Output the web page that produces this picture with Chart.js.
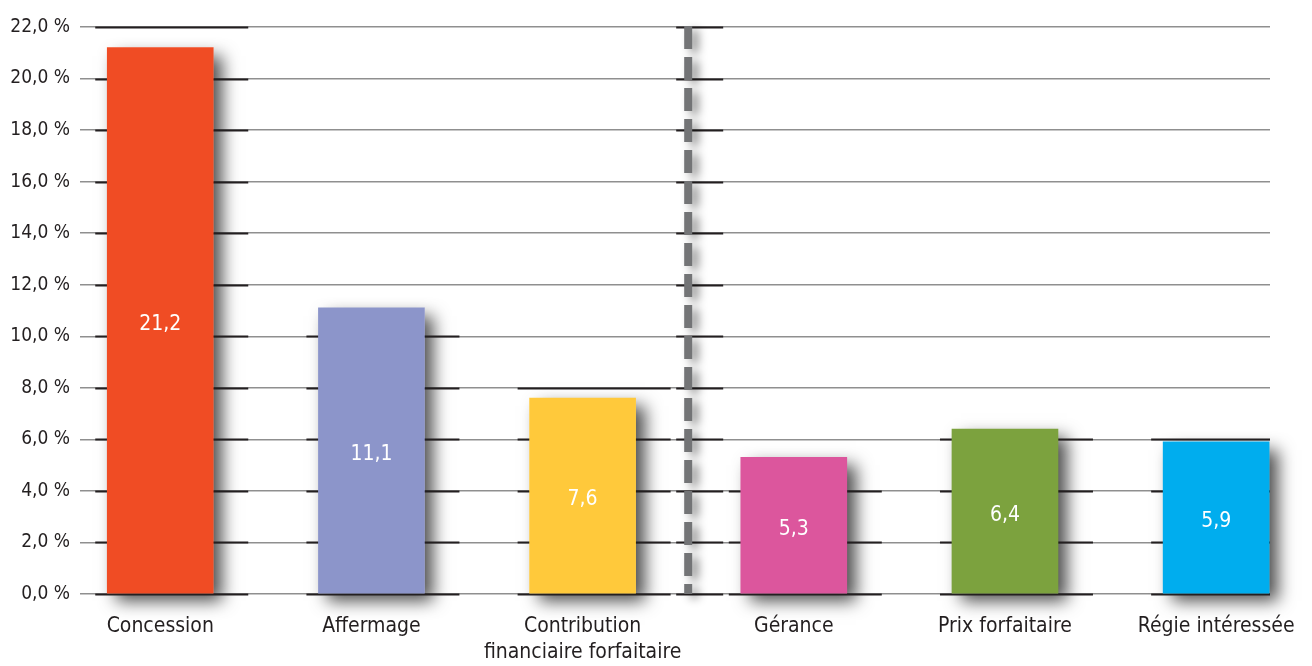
<!DOCTYPE html>
<html>
<head>
<meta charset="utf-8">
<script src="https://cdn.jsdelivr.net/npm/chart.js@4"></script>
<style>
    html, body { margin: 0; padding: 0; background: #ffffff; }
    #wrap { width: 1312px; height: 666px; }
</style>
</head>
<body>
<div id="wrap"><canvas id="chart" width="1312" height="666"></canvas></div>
<script>
const categories = ["Concession", "Affermage", ["Contribution", "financiaire forfaitaire"], "Gérance", "Prix forfaitaire", "Régie intéressée"];
const values = [21.2, 11.1, 7.6, 5.3, 6.4, 5.9];
const barColors = ["#F04C24", "#8C95CA", "#FFC93B", "#DC569D", "#7CA23E", "#00ADEE"];
const yTicks = [0, 2, 4, 6, 8, 10, 12, 14, 16, 18, 20, 22];
const dividerAt = 2.5; // dashed line between "Contribution" and "Gérance"

const FONT = "'Liberation Sans Narrow', 'DejaVu Sans Condensed', sans-serif";
const TEXT = "#231f20";
const DARK_GRID = "#231f20";

const fmt = (v) => v.toFixed(1).replace(".", ",");

// shadow behind bars, drawn before the bars so the grid lines sit on top of it
const shadowPlugin = {
    id: "barShadow",
    beforeDatasetsDraw(chart) {
        const ctx = chart.ctx;
        const meta = chart.getDatasetMeta(0);
        ctx.save();
        ctx.shadowColor = "rgba(0,0,0,0.7)";
        ctx.shadowBlur = 16;
        ctx.shadowOffsetX = 9;
        ctx.shadowOffsetY = 8;
        ctx.fillStyle = "#ffffff";
        meta.data.forEach((el) => {
            const w = el.width;
            ctx.fillRect(el.x - w / 2, el.y, w, el.base - el.y);
        });
        ctx.restore();

        // darker grid segments around each bar
        const y = chart.scales.y;
        const topTick = yTicks[yTicks.length - 1];
        ctx.save();
        ctx.strokeStyle = DARK_GRID;
        ctx.lineWidth = 2;
        meta.data.forEach((el, i) => {
            const left = el.x - el.width / 2 - 12;
            const right = Math.min(el.x + el.width / 2 + 35, chart.chartArea.right);
            yTicks.forEach((t) => {
                if (t > values[i] + (t === topTick ? 0.85 : 0.65)) return;
                const py = Math.round(y.getPixelForValue(t)) + 0.5;
                ctx.beginPath();
                ctx.moveTo(left, py);
                ctx.lineTo(right, py);
                ctx.stroke();
            });
        });
        // and around the divider
        const dx = chart.scales.x.getPixelForValue(dividerAt);
        yTicks.forEach((t) => {
            const py = Math.round(y.getPixelForValue(t)) + 0.5;
            ctx.beginPath();
            ctx.moveTo(dx - 12, py);
            ctx.lineTo(dx + 35, py);
            ctx.stroke();
        });
        // divider itself
        ctx.shadowColor = "rgba(0,0,0,0.45)";
        ctx.shadowBlur = 10;
        ctx.shadowOffsetX = 6;
        ctx.shadowOffsetY = 4;
        ctx.strokeStyle = "#737476";
        ctx.lineWidth = 8;
        ctx.setLineDash([23, 8]);
        ctx.beginPath();
        ctx.moveTo(dx, chart.chartArea.top - 1);
        ctx.lineTo(dx, chart.chartArea.bottom);
        ctx.stroke();
        ctx.restore();
    },
    afterDatasetsDraw(chart) {
        const ctx = chart.ctx;
        const meta = chart.getDatasetMeta(0);
        ctx.save();
        ctx.fillStyle = "#ffffff";
        ctx.font = "21px " + FONT;
        ctx.textAlign = "center";
        ctx.textBaseline = "middle";
        meta.data.forEach((el, i) => {
            ctx.fillText(fmt(values[i]), el.x, (el.y + el.base) / 2 + 4);
        });
        ctx.restore();
    }
};

new Chart(document.getElementById("chart"), {
    type: "bar",
    data: {
        datasets: [
            {
                data: values.map((v, i) => ({ x: i, y: v })),
                backgroundColor: barColors,
                borderWidth: 0,
                barThickness: 106,
            },
        ],
    },
    options: {
        responsive: false,
        animation: false,
        layout: { padding: { top: 27, right: 42, left: 0, bottom: 0 } },
        plugins: { legend: { display: false }, tooltip: { enabled: false } },
        scales: {
            x: {
                type: "linear",
                offset: false,
                min: -0.38,
                max: 5.255,
                afterBuildTicks: (scale) => {
                    scale.ticks = categories.map((_, i) => ({ value: i }));
                },
                afterFit: (scale) => {
                    scale.height = 72;
                    scale.paddingLeft = 0;
                    scale.paddingRight = 0;
                },
                grid: { display: false, drawTicks: false, offset: false },
                border: { display: false },
                ticks: {
                    autoSkip: false,
                    maxRotation: 0,
                    padding: 19,
                    color: TEXT,
                    font: { family: FONT, size: 21, lineHeight: 1.25 },
                    callback: (v) => categories[v],
                },
            },
            y: {
                min: 0,
                max: 22,
                afterBuildTicks: (scale) => {
                    scale.ticks = yTicks.map((v) => ({ value: v }));
                },
                afterFit: (scale) => { scale.width = 80; },
                grid: { color: "#8f8f8f", lineWidth: 1.5, drawTicks: false },
                border: { display: false },
                ticks: {
                    padding: 10,
                    color: TEXT,
                    font: { family: FONT, size: 19 },
                    callback: (v) => fmt(v) + " %",
                },
            },
        },
    },
    plugins: [shadowPlugin],
});
</script>
</body>
</html>
